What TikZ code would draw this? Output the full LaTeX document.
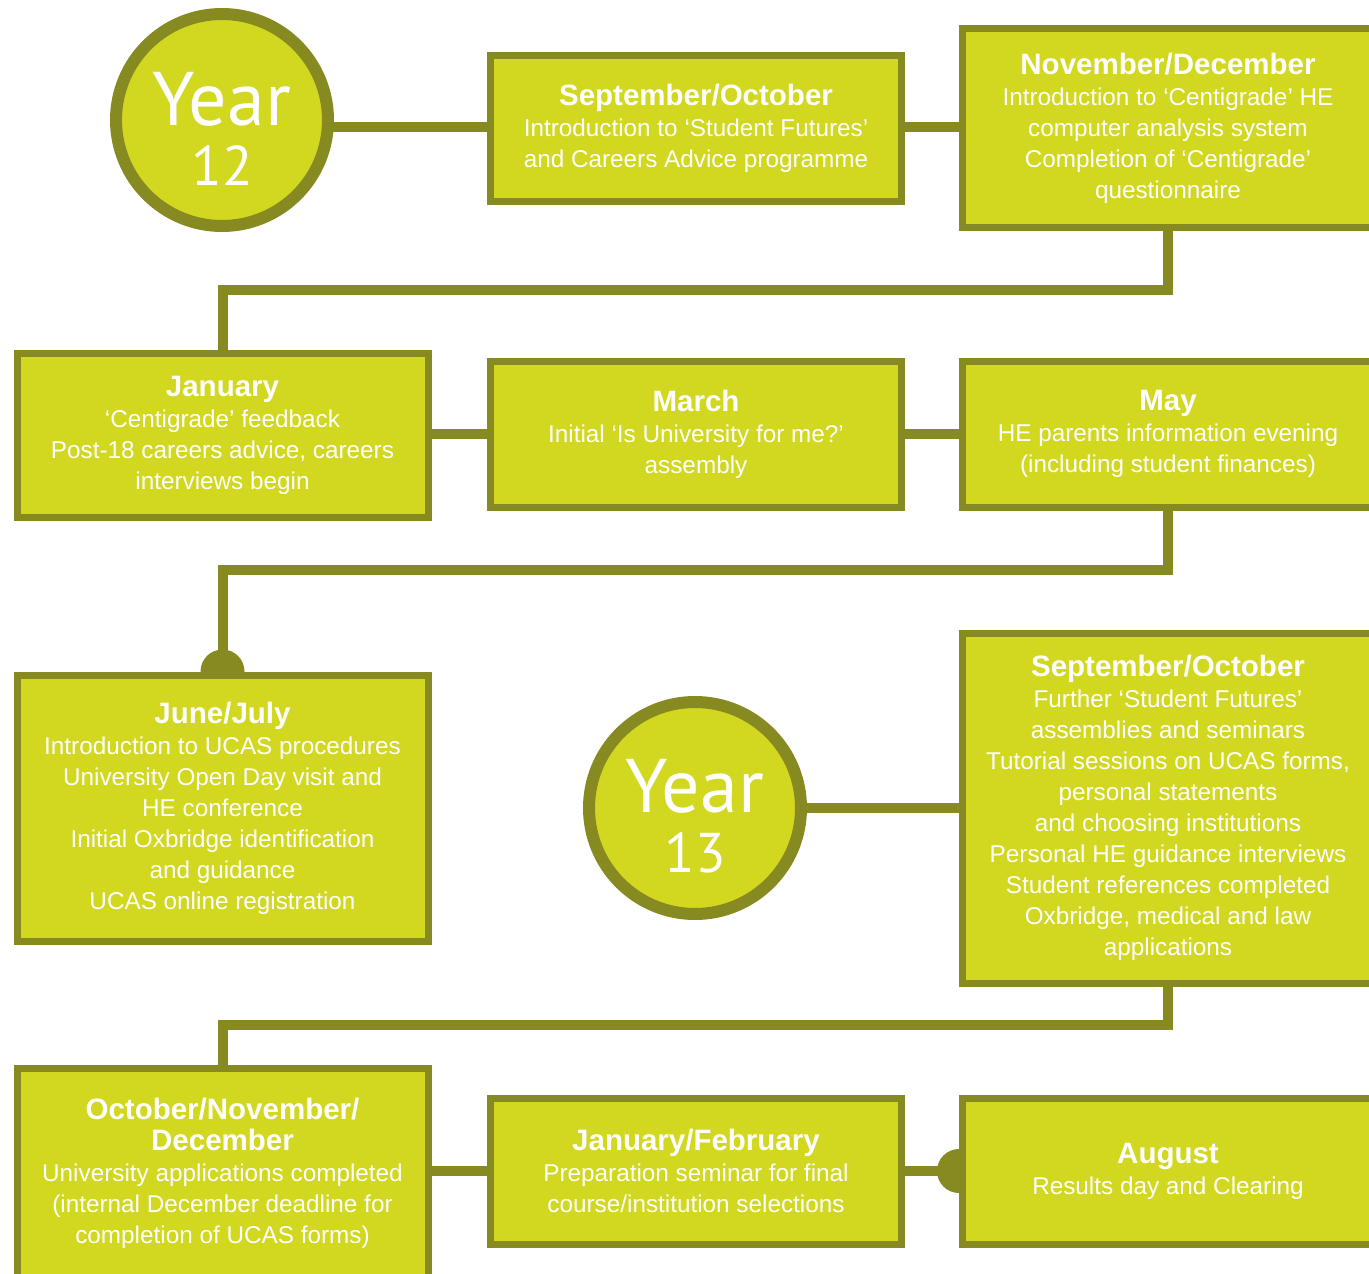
\documentclass[tikz,border=0pt]{standalone}
\usepackage{fontspec}
\setmainfont{Liberation Sans}
\newfontfamily\yearfont{PT Sans}
\usetikzlibrary{backgrounds}
\definecolor{boxfill}{RGB}{210,215,32}
\definecolor{boxline}{RGB}{134,138,32}
\newcommand{\monthhead}[1]{\textbf{\fontsize{29.5}{31}\selectfont #1}}
\newcommand{\yearlabel}[1]{\rule{0pt}{70pt}Year\\{\fontsize{56}{60}\selectfont #1}}

\begin{document}
\begin{tikzpicture}[x=1pt,y=-1pt,
    monthbox/.style={draw=boxline,fill=boxfill,line width=7pt,text=white,align=center,
      inner sep=0pt,minimum width=411pt,font=\fontsize{24.3}{31}\selectfont},
    yearring/.style={circle,draw=boxline,fill=boxfill,line width=12pt,minimum size=212pt,
      inner sep=0pt,text=white,align=center,font=\yearfont\fontsize{76}{60}\selectfont},
    link/.style={draw=boxline,line width=10pt}]
  \useasboundingbox (0,0) rectangle (1369,1274);

  % year 12
  \node[yearring] (year12) at (222,120) {\yearlabel{12}};
  \node[monthbox,minimum height=146pt] (sepoct12) at (696,128.5)
    {\monthhead{September/October}\\Introduction to ‘Student Futures’\\and Careers Advice programme};
  \node[monthbox,minimum height=199pt] (novdec) at (1168,128)
    {\monthhead{November/December}\\Introduction to ‘Centigrade’ HE\\computer analysis system\\Completion of ‘Centigrade’\\questionnaire};
  \node[monthbox,minimum height=164pt] (jan) at (222.5,435.5)
    {\monthhead{January}\\‘Centigrade’ feedback\\Post-18 careers advice, careers\\interviews begin};
  \node[monthbox,minimum height=146pt] (march) at (696,434)
    {\monthhead{March}\\Initial ‘Is University for me?’\\assembly};
  \node[monthbox,minimum height=146pt] (may) at (1168,434)
    {\monthhead{May}\\HE parents information evening\\(including student finances)};
  \node[monthbox,minimum height=266pt] (junjul) at (222.5,808)
    {\monthhead{June/July}\\Introduction to UCAS procedures\\University Open Day visit and\\HE conference\\Initial Oxbridge identification\\and guidance\\UCAS online registration};

  % year 13
  \node[yearring] (year13) at (695,808) {\yearlabel{13}};
  \node[monthbox,minimum height=350pt] (sepoct13) at (1168,808)
    {\monthhead{September/October}\\Further ‘Student Futures’\\assemblies and seminars\\Tutorial sessions on UCAS forms,\\personal statements\\and choosing institutions\\Personal HE guidance interviews\\Student references completed\\Oxbridge, medical and law\\applications};
  \node[monthbox,minimum height=209pt] (octnovdec) at (222.5,1173)
    {\monthhead{October/November/}\\\monthhead{December}\\University applications completed\\(internal December deadline for\\completion of UCAS forms)};
  \node[monthbox,minimum height=146pt] (janfeb) at (696,1171)
    {\monthhead{January/February}\\Preparation seminar for final\\course/institution selections};
  \node[monthbox,minimum height=146pt] (august) at (1168,1171)
    {\monthhead{August}\\Results day and Clearing};

  \coordinate (jog1) at (0,290);
  \coordinate (jog2) at (0,570);
  \coordinate (jog3) at (0,1025);

  \begin{scope}[on background layer]
    \draw[link] (year12.center |- 0,127) -- (novdec.west |- 0,127);
    \draw[link] (novdec) -- (novdec |- jog1) -| (jan);
    \draw[link] (jan.east |- march) -- (may);
    \draw[link] (may) -- (may |- jog2) -| (junjul);
    \fill[boxline] (junjul.north) circle (22pt);
    \draw[link] (year13.center |- sepoct13.west) -- (sepoct13.west);
    \draw[link] (sepoct13) -- (sepoct13 |- jog3) -| (octnovdec);
    \draw[link] (octnovdec.east |- janfeb) -- (august);
    \fill[boxline] (august.west) circle (22pt);
  \end{scope}
\end{tikzpicture}
\end{document}
